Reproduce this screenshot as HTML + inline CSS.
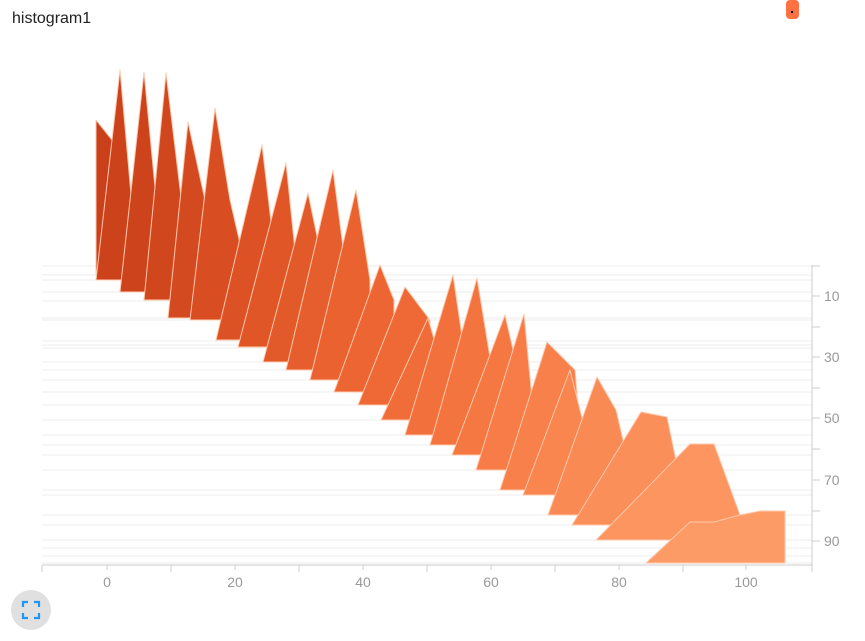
<!DOCTYPE html>
<html><head><meta charset="utf-8"><style>
body{margin:0;background:#fff;width:865px;height:636px;overflow:hidden;font-family:"Liberation Sans",sans-serif}
</style></head><body>
<svg width="865" height="636" xmlns="http://www.w3.org/2000/svg" font-family="Liberation Sans, sans-serif">
<text x="12" y="23" font-size="16" fill="#212121">histogram1</text>
<rect x="786" y="0" width="13" height="19" rx="4" fill="#ff7043"/>
<rect x="791" y="11" width="2" height="2" fill="#000"/>
<g stroke="#ececec" stroke-width="1">
<line x1="42" x2="812" y1="266" y2="266"/><line x1="42" x2="812" y1="275" y2="275"/><line x1="42" x2="812" y1="280" y2="280"/>
<line x1="42" x2="812" y1="292" y2="292"/><line x1="42" x2="812" y1="301" y2="301"/><line x1="42" x2="812" y1="318" y2="318"/>
<line x1="42" x2="812" y1="320" y2="320"/><line x1="42" x2="812" y1="341" y2="341"/><line x1="42" x2="812" y1="345" y2="345"/>
<line x1="42" x2="812" y1="348" y2="348"/><line x1="42" x2="812" y1="362" y2="362"/><line x1="42" x2="812" y1="370" y2="370"/>
<line x1="42" x2="812" y1="380" y2="380"/><line x1="42" x2="812" y1="392" y2="392"/><line x1="42" x2="812" y1="405" y2="405"/>
<line x1="42" x2="812" y1="420" y2="420"/><line x1="42" x2="812" y1="435" y2="435"/><line x1="42" x2="812" y1="445" y2="445"/>
<line x1="42" x2="812" y1="455" y2="455"/><line x1="42" x2="812" y1="470" y2="470"/><line x1="42" x2="812" y1="490" y2="490"/>
<line x1="42" x2="812" y1="495" y2="495"/><line x1="42" x2="812" y1="515" y2="515"/><line x1="42" x2="812" y1="525" y2="525"/>
<line x1="42" x2="812" y1="540" y2="540"/><line x1="42" x2="812" y1="548" y2="548"/><line x1="42" x2="812" y1="556" y2="556"/><line x1="42" x2="812" y1="563" y2="563"/>
</g>
<g stroke="#ffc8ac" stroke-width="1" stroke-linejoin="round">
<polygon fill="#c9401a" points="96,275 96,120 112,140 112,275"/>
<polygon fill="#cb421b" points="96,280 120,70 135,240 135,280"/>
<polygon fill="#cd441c" points="120,292 144,72 160,240 160,292"/>
<polygon fill="#d0471e" points="144,300 166,73 185,230 185,300"/>
<polygon fill="#d34a20" points="168,318 188,122 205,200 205,318"/>
<polygon fill="#d84e22" points="190,320 215,108 230,200 245,265 245,320"/>
<polygon fill="#dc5225" points="216,340 262,145 272,230 272,340"/>
<polygon fill="#e05627" points="238,347 286,163 296,260 296,347"/>
<polygon fill="#e35a2a" points="263,362 308,193 322,260 322,362"/>
<polygon fill="#e65e2d" points="286,370 333,170 346,270 346,370"/>
<polygon fill="#e9622f" points="310,380 356,190 370,280 370,380"/>
<polygon fill="#ec6532" points="334,392 380,265 394,300 394,392"/>
<polygon fill="#ee6935" points="358,405 405,287 430,320 430,405"/>
<polygon fill="#f06c38" points="381,420 428,318 440,360 440,420"/>
<polygon fill="#f2703b" points="405,435 453,275 464,350 464,435"/>
<polygon fill="#f4743f" points="430,445 477,278 492,370 492,445"/>
<polygon fill="#f57843" points="452,455 505,315 520,380 520,455"/>
<polygon fill="#f77c47" points="476,470 524,314 534,420 534,470"/>
<polygon fill="#f8804b" points="500,490 547,342 575,370 580,430 580,490"/>
<polygon fill="#f9854f" points="523,495 570,370 585,430 585,495"/>
<polygon fill="#fa8a54" points="548,515 597,377 616,410 630,470 630,515"/>
<polygon fill="#fb8f59" points="572,525 641,412 667,417 680,480 680,525"/>
<polygon fill="#fc955f" points="596,540 690,444 714,444 740,515 740,540"/>
<polygon fill="#fd9b66" points="646,563 690,522 714,522 740,515 760,511 785,511 785,563"/>
</g>
<g stroke="#ccc" fill="none">
<line x1="42" x2="812" y1="565" y2="565"/>
<path d="M42,565v7M171,565v7M299,565v7M427,565v7M555,565v7M683,565v7M812,565v7"/>
<path d="M107,565v5M235,565v5M363,565v5M491,565v5M619,565v5M746,565v5"/>
<line x1="812" x2="812" y1="265" y2="565"/>
<path d="M812,296h8M812,357h8M812,418h8M812,480h8M812,541h8M812,327h8M812,388h8M812,449h8M812,511h8M812,266h8"/>
</g>
<g font-size="14" fill="#999" text-anchor="middle">
<text x="107" y="587">0</text><text x="235" y="587">20</text><text x="363" y="587">40</text>
<text x="491" y="587">60</text><text x="619" y="587">80</text><text x="746" y="587">100</text>
</g>
<g font-size="14" fill="#999">
<text x="824" y="301">10</text><text x="824" y="362">30</text><text x="824" y="423">50</text>
<text x="824" y="485">70</text><text x="824" y="546">90</text>
</g>
<circle cx="31" cy="610" r="20" fill="#e0e0e0"/>
<path d="M23,607v-5h5M34,602h5v5M39,613v5h-5M28,618h-5v-5" stroke="#2196f3" stroke-width="2.2" fill="none"/>
</svg>
</body></html>
